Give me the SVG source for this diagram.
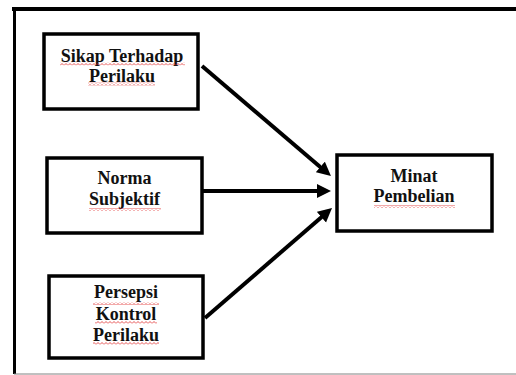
<svg xmlns="http://www.w3.org/2000/svg" width="516" height="375" viewBox="0 0 516 375">
<style>
.box{fill:#fff;stroke:#000;stroke-width:3.5}
.lbl{font-family:"Liberation Serif","Times New Roman",serif;font-weight:bold;font-size:18px;fill:#111;text-anchor:middle}
.con{stroke:#000;stroke-width:4;fill:none;marker-end:url(#ah)}
.sq{fill:url(#wavy)}
</style>
<defs>
<marker id="ah" markerUnits="userSpaceOnUse" markerWidth="15" markerHeight="15" refX="3" refY="7" orient="auto" viewBox="0 0 15 15">
<path d="M0,0 L14,7 L0,14 z" fill="#000"/>
</marker>
<pattern id="wavy" patternUnits="userSpaceOnUse" width="4" height="3">
<path d="M0,2.5 L2,0.5 L4,2.5" fill="none" stroke="#e02828" stroke-width="0.8"/>
</pattern>
</defs>
<rect x="0" y="0" width="516" height="375" fill="#fff"/>
<g id="frame">
<line x1="12" y1="9" x2="516" y2="9" stroke="#000" stroke-width="4"/>
<line x1="14.5" y1="7" x2="14.5" y2="374" stroke="#000" stroke-width="3"/>
<line x1="14" y1="374" x2="516" y2="374" stroke="#808080" stroke-width="1"/>
</g>
<g id="connectors">
<line class="con" x1="202" y1="66" x2="322.6" y2="168.9"/>
<line class="con" x1="203" y1="191" x2="320" y2="191"/>
<line class="con" x1="205" y1="318" x2="323.7" y2="215.2"/>
</g>
<g id="node-sikap">
<rect class="box" x="44" y="34" width="154" height="75"/>
<text class="lbl" x="122" y="62">Sikap Terhadap</text>
<text class="lbl" x="122" y="82">Perilaku</text>
<rect class="sq" x="60" y="62.5" width="125" height="3"/>
<rect class="sq" x="88" y="82.5" width="67" height="3"/>
</g>
<g id="node-norma">
<rect class="box" x="47" y="158" width="155" height="75"/>
<text class="lbl" x="124.5" y="184">Norma</text>
<text class="lbl" x="124.5" y="205">Subjektif</text>
<rect class="sq" x="89" y="208" width="72" height="3"/>
</g>
<g id="node-persepsi">
<rect class="box" x="49" y="276" width="154" height="82"/>
<text class="lbl" x="126" y="298">Persepsi</text>
<text class="lbl" x="126" y="320">Kontrol</text>
<text class="lbl" x="126" y="341">Perilaku</text>
<rect class="sq" x="93" y="302" width="66" height="3"/>
<rect class="sq" x="95" y="321" width="62" height="3"/>
<rect class="sq" x="93" y="342" width="66" height="3"/>
</g>
<g id="node-minat">
<rect class="box" x="337" y="155" width="155" height="76"/>
<text class="lbl" x="414" y="182">Minat</text>
<text class="lbl" x="414" y="202">Pembelian</text>
<rect class="sq" x="374" y="205" width="81" height="3"/>
</g>
</svg>
